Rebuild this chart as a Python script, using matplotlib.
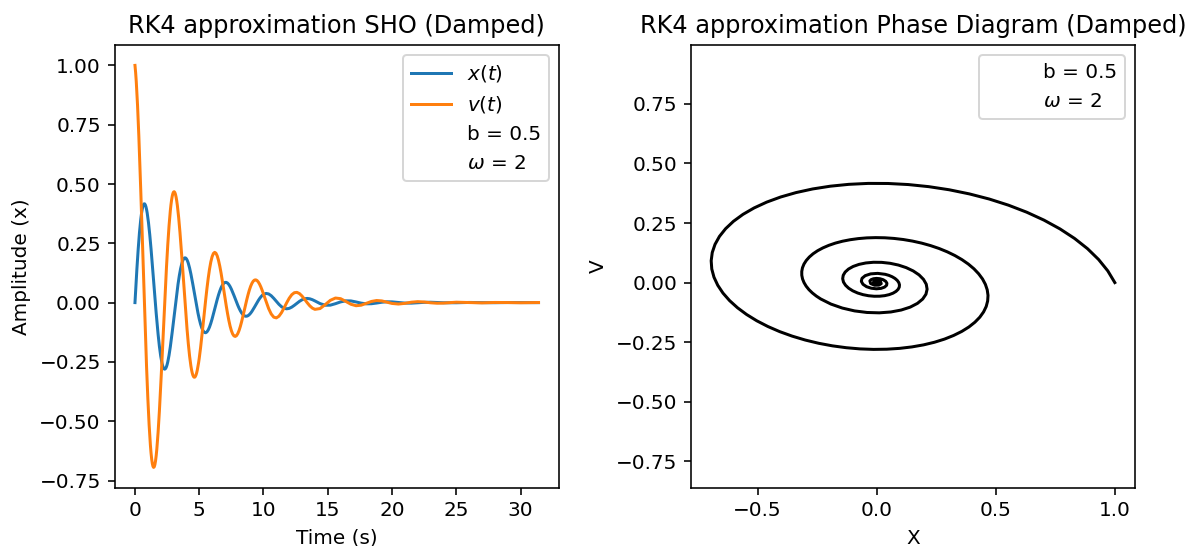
import matplotlib
matplotlib.use("Agg")
import matplotlib.pyplot as plt

# Time samples (s)
t = [0.00, 0.05, 0.10, 0.15, 0.20, 0.25, 0.30, 0.35, 0.40, 0.45,
     0.50, 0.55, 0.60, 0.65, 0.70, 0.75, 0.80, 0.85, 0.90, 0.95,
     1.00, 1.05, 1.10, 1.15, 1.20, 1.25, 1.30, 1.35, 1.40, 1.45,
     1.50, 1.55, 1.60, 1.65, 1.70, 1.75, 1.80, 1.85, 1.90, 1.95,
     2.00, 2.05, 2.10, 2.15, 2.20, 2.25, 2.30, 2.35, 2.40, 2.45,
     2.50, 2.55, 2.60, 2.65, 2.70, 2.75, 2.80, 2.85, 2.90, 2.95,
     3.00, 3.05, 3.10, 3.15, 3.20, 3.25, 3.30, 3.35, 3.40, 3.45,
     3.50, 3.55, 3.60, 3.65, 3.70, 3.75, 3.80, 3.85, 3.90, 3.95,
     4.00, 4.05, 4.10, 4.15, 4.20, 4.25, 4.30, 4.35, 4.40, 4.45,
     4.50, 4.55, 4.60, 4.65, 4.70, 4.75, 4.80, 4.85, 4.90, 4.95,
     5.0,
     5.1, 5.2, 5.3, 5.4, 5.5, 5.6, 5.7, 5.8, 5.9, 6.0,
     6.1, 6.2, 6.3, 6.4, 6.5, 6.6, 6.7, 6.8, 6.9, 7.0,
     7.1, 7.2, 7.3, 7.4, 7.5, 7.6, 7.7, 7.8, 7.9, 8.0,
     8.1, 8.2, 8.3, 8.4, 8.5, 8.6, 8.7, 8.8, 8.9, 9.0,
     9.1, 9.2, 9.3, 9.4, 9.5, 9.6, 9.7, 9.8, 9.9, 10.0,
     10.2, 10.4, 10.6, 10.8, 11.0, 11.2, 11.4, 11.6, 11.8, 12.0,
     12.2, 12.4, 12.6, 12.8, 13.0, 13.2, 13.4, 13.6, 13.8, 14.0,
     14.4, 14.8, 15.2, 15.6, 16.0, 16.4, 16.8, 17.2, 17.6, 18.0,
     18.4, 18.8, 19.2, 19.6, 20.0,
     20.5, 21.0, 21.5, 22.0, 22.5, 23.0, 23.5, 24.0, 25.0, 26.0,
     27.0, 28.0, 29.0, 30.0, 31.0, 31.4]

# Position x(t)
x = [0.0000, 0.0493, 0.0969, 0.1424, 0.1853, 0.2253, 0.2622, 0.2955, 0.3251, 0.3508,
     0.3723, 0.3897, 0.4028, 0.4116, 0.4161, 0.4164, 0.4125, 0.4047, 0.3931, 0.3779,
     0.3594, 0.3378, 0.3133, 0.2864, 0.2573, 0.2264, 0.1940, 0.1605, 0.1263, 0.0916,
     0.0569, 0.0225, -0.0113, -0.0441, -0.0757, -0.1057, -0.1340, -0.1603, -0.1843, -0.2059,
     -0.2249, -0.2413, -0.2549, -0.2656, -0.2734, -0.2784, -0.2805, -0.2797, -0.2762, -0.2701,
     -0.2615, -0.2505, -0.2373, -0.2220, -0.2050, -0.1864, -0.1663, -0.1452, -0.1231, -0.1004,
     -0.0772, -0.0538, -0.0305, -0.0075, 0.0151, 0.0369, 0.0579, 0.0777, 0.0963, 0.1135,
     0.1291, 0.1431, 0.1553, 0.1657, 0.1742, 0.1808, 0.1854, 0.1881, 0.1888, 0.1877,
     0.1847, 0.1800, 0.1737, 0.1658, 0.1564, 0.1457, 0.1339, 0.1210, 0.1073, 0.0928,
     0.0778, 0.0623, 0.0467, 0.0310, 0.0153, -0.0001, -0.0151, -0.0297, -0.0435, -0.0566,
     -0.0688,
     -0.0902, -0.1070, -0.1189, -0.1255, -0.1270, -0.1234, -0.1152, -0.1030, -0.0873, -0.0690,
     -0.0489, -0.0279, -0.0068, 0.0135, 0.0323, 0.0489, 0.0628, 0.0736, 0.0810, 0.0849,
     0.0853, 0.0824, 0.0764, 0.0677, 0.0568, 0.0442, 0.0306, 0.0164, 0.0022, -0.0113,
     -0.0237, -0.0346, -0.0437, -0.0506, -0.0552, -0.0574, -0.0572, -0.0549, -0.0505, -0.0444,
     -0.0369, -0.0283, -0.0190, -0.0094, 0.0001, 0.0091, 0.0173, 0.0244, 0.0303, 0.0347,
     0.0387, 0.0366, 0.0291, 0.0180, 0.0053, -0.0071, -0.0172, -0.0237, -0.0261, -0.0243,
     -0.0190, -0.0114, -0.0028, 0.0054, 0.0120, 0.0162, 0.0176, 0.0161, 0.0124, 0.0072,
     -0.0041, -0.0111, -0.0107, -0.0045, 0.0030, 0.0075, 0.0071, 0.0028, -0.0022, -0.0051,
     -0.0047, -0.0018, 0.0016, 0.0035, 0.0031,
     0.0005, -0.0020, -0.0023, -0.0007, 0.0011, 0.0016, 0.0007, -0.0006, -0.0006, 0.0007,
     -0.0001, -0.0004, 0.0003, 0.0000, -0.0002, -0.0001]

# Velocity v(t)
v = [1.0000, 0.9704, 0.9319, 0.8853, 0.8310, 0.7699, 0.7026, 0.6301, 0.5532, 0.4727,
     0.3895, 0.3046, 0.2187, 0.1328, 0.0477, -0.0357, -0.1168, -0.1947, -0.2687, -0.3383,
     -0.4028, -0.4617, -0.5147, -0.5612, -0.6011, -0.6340, -0.6599, -0.6786, -0.6902, -0.6947,
     -0.6922, -0.6829, -0.6671, -0.6452, -0.6174, -0.5842, -0.5460, -0.5034, -0.4569, -0.4071,
     -0.3544, -0.2996, -0.2431, -0.1857, -0.1278, -0.0701, -0.0131, 0.0426, 0.0965, 0.1481,
     0.1970, 0.2427, 0.2849, 0.3232, 0.3575, 0.3873, 0.4126, 0.4332, 0.4490, 0.4600,
     0.4661, 0.4676, 0.4643, 0.4566, 0.4446, 0.4284, 0.4085, 0.3850, 0.3582, 0.3286,
     0.2965, 0.2623, 0.2263, 0.1890, 0.1507, 0.1119, 0.0729, 0.0342, -0.0039, -0.0410,
     -0.0768, -0.1109, -0.1432, -0.1732, -0.2007, -0.2256, -0.2477, -0.2668, -0.2827, -0.2955,
     -0.3051, -0.3114, -0.3144, -0.3143, -0.3111, -0.3049, -0.2959, -0.2842, -0.2699, -0.2533,
     -0.2347,
     -0.1920, -0.1440, -0.0927, -0.0403, 0.0111, 0.0595, 0.1033, 0.1410, 0.1713, 0.1934,
     0.2070, 0.2119, 0.2083, 0.1967, 0.1781, 0.1535, 0.1241, 0.0913, 0.0565, 0.0213,
     -0.0131, -0.0453, -0.0741, -0.0987, -0.1182, -0.1322, -0.1403, -0.1426, -0.1393, -0.1306,
     -0.1174, -0.1002, -0.0799, -0.0576, -0.0341, -0.0104, 0.0126, 0.0339, 0.0529, 0.0689,
     0.0814, 0.0902, 0.0950, 0.0959, 0.0930, 0.0866, 0.0772, 0.0653, 0.0514, 0.0361,
     0.0043, -0.0251, -0.0479, -0.0614, -0.0644, -0.0574, -0.0424, -0.0225, -0.0011, 0.0184,
     0.0333, 0.0418, 0.0432, 0.0380, 0.0275, 0.0140, -0.0004, -0.0134, -0.0231, -0.0284,
     -0.0251, -0.0086, 0.0096, 0.0193, 0.0166, 0.0052, -0.0069, -0.0131, -0.0109, -0.0032,
     0.0049, 0.0088, 0.0072, 0.0019, -0.0035,
     -0.0060, -0.0031, 0.0017, 0.0040, 0.0026, -0.0007, -0.0026, -0.0020, 0.0017, 0.0002,
     -0.0011, 0.0006, 0.0003, -0.0006, 0.0002, 0.0004]

b_label = "b = 0.5"
w_label = r"$\omega$ = 2"

W, H, DPI = 1202, 546, 144
fig = plt.figure(figsize=(W / DPI, H / DPI), dpi=DPI)

left_px, right_px = 114.8, 558.7
top_px, bot_px = 45.3, 487.5
ax1 = fig.add_axes([left_px / W, (H - bot_px) / H, (right_px - left_px) / W, (bot_px - top_px) / H])
ax2 = fig.add_axes([691.0 / W, (H - bot_px) / H, 444.0 / W, (bot_px - top_px) / H])

ax1.plot(t, x, color="C0", label=r"$x(t)$")
ax1.plot(t, v, color="C1", label=r"$v(t)$")
ax1.plot([], [], " ", label=b_label)
ax1.plot([], [], " ", label=w_label)
ax1.set_title("RK4 approximation SHO (Damped)")
ax1.set_xlabel("Time (s)")
ax1.set_ylabel("Amplitude (x)")
ax1.legend(loc="upper right")

ax2.plot(v, x, color="k")
ax2.plot([], [], " ", label=b_label)
ax2.plot([], [], " ", label=w_label)
ax2.set_aspect("equal", adjustable="datalim")
ax2.set_title("RK4 approximation Phase Diagram (Damped)")
ax2.set_xlabel("X")
ax2.set_ylabel("V")
ax2.legend(loc="upper right")

fig.savefig("out.png", dpi=DPI)
